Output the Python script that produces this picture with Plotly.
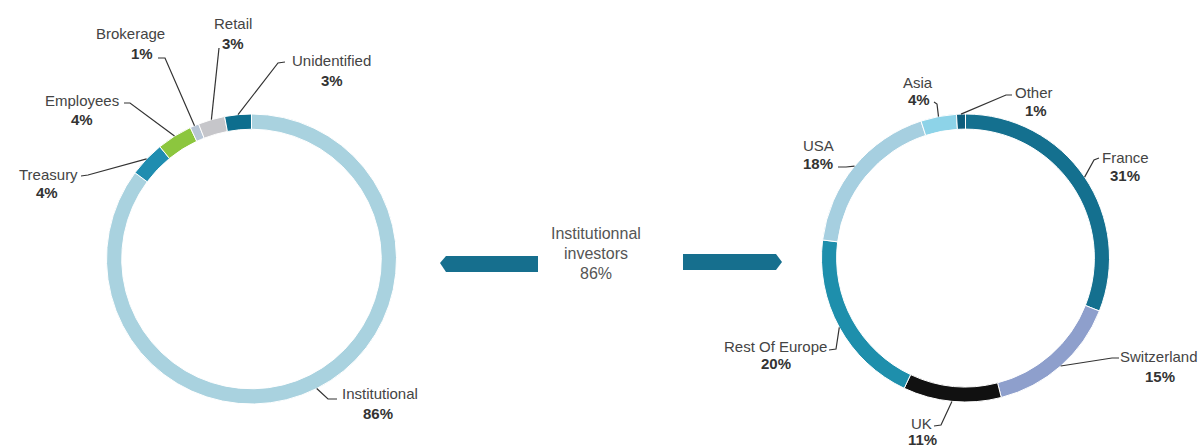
import math
import plotly.graph_objects as go

W, H = 1201, 448

# ---------------- data ----------------
holder_labels = ["Institutional", "Treasury", "Employees", "Brokerage", "Retail", "Unidentified"]
holder_values = [86, 4, 4, 1, 3, 3]
holder_colors = ["#a9d2df", "#1f8db0", "#8cc63e", "#b8c6d6", "#c6c6ca", "#0d6e8e"]

geo_labels = ["France", "Switzerland", "UK", "Rest Of Europe", "USA", "Asia", "Other"]
geo_values = [31, 15, 11, 20, 18, 4, 1]
geo_colors = ["#14708f", "#8e9fcc", "#111111", "#1e8fac", "#a6cfe0", "#8dd3e8", "#0d5d7c"]

center_lines = ["Institutionnal", "investors", "86%"]

# ---------------- layout helpers ----------------
LEFT_C, LEFT_R = (251.5, 259.0), 145.0
RIGHT_C, RIGHT_R = (965.5, 258.0), 144.0
HOLE = 0.895

# label placement: name position, pct position, leader path points (text side)
left_place = {
    "Treasury":      ((48, 174), (47, 192), [(81, 176), (88, 175)]),
    "Employees":     ((82, 100), (82, 119), [(124, 103), (130, 103)]),
    "Brokerage":     ((130, 33), (142, 53), [(158, 58), (165, 58)]),
    "Retail":        ((233, 23), (233, 43), [(219, 48)]),
    "Unidentified":  ((331, 60), (332, 80), [(285, 62), (278, 63)]),
    "Institutional": ((380, 393), (378, 413), [(337, 399), (328, 399)]),
}
right_place = {
    "Asia":           ((918, 82), (919, 99), [(934, 102), (937, 104)]),
    "Other":          ((1034, 92), (1036, 110), [(1012, 95), (1006, 95)]),
    "USA":            ((818, 145), (818, 163), [(838, 167), (846, 167)]),
    "France":         ((1125, 157), (1125, 175), [(1099, 158), (1094, 160)]),
    "Switzerland":    ((1159, 356), (1160, 376), [(1119, 358), (1112, 358)]),
    "UK":             ((921, 423), (922, 439), [(934, 426), (941, 425)]),
    "Rest Of Europe": ((775, 346), (776, 363), [(829, 350), (836, 349)]),
}


def domain(c, r):
    cx, cy = c
    return dict(x=[(cx - r) / W, (cx + r) / W],
                y=[(H - cy - r) / H, (H - cy + r) / H])


def mid_points(values, c, r):
    tot = float(sum(values))
    cum = 0.0
    pts = []
    for v in values:
        ang = (cum + v / 2.0) / tot * 2 * math.pi  # clockwise from 12 o'clock
        pts.append((c[0] + r * math.sin(ang), c[1] - r * math.cos(ang)))
        cum += v
    return pts


fig = go.Figure()

fig.add_trace(go.Pie(
    labels=holder_labels, values=holder_values, sort=False, direction="clockwise",
    rotation=0, hole=HOLE, textinfo="none", hoverinfo="label+percent",
    marker=dict(colors=holder_colors, line=dict(color="white", width=1)),
    domain=domain(LEFT_C, LEFT_R), showlegend=False,
))
fig.add_trace(go.Pie(
    labels=geo_labels, values=geo_values, sort=False, direction="clockwise",
    rotation=0, hole=HOLE, textinfo="none", hoverinfo="label+percent",
    marker=dict(colors=geo_colors, line=dict(color="white", width=1)),
    domain=domain(RIGHT_C, RIGHT_R), showlegend=False,
))

shapes = []
annotations = []
FONT = "Liberation Sans, Arial, sans-serif"
LBL = 15


def add_labels(labels, values, c, r, place):
    pts = mid_points(values, c, r)
    for lab, val, p in zip(labels, values, pts):
        (nx, ny), (px, py), path = place[lab]
        allp = path + [p]
        d = "M " + " L ".join(f"{x:.1f},{y:.1f}" for x, y in allp)
        shapes.append(dict(type="path", path=d, xref="x", yref="y",
                           line=dict(color="#333333", width=1.2)))
        annotations.append(dict(x=nx, y=ny, xref="x", yref="y", text=lab,
                                showarrow=False, font=dict(family=FONT, size=LBL, color="#444444")))
        annotations.append(dict(x=px, y=py, xref="x", yref="y", text=f"<b>{val}%</b>",
                                showarrow=False, font=dict(family=FONT, size=LBL, color="#333333")))


add_labels(holder_labels, holder_values, LEFT_C, LEFT_R, left_place)
add_labels(geo_labels, geo_values, RIGHT_C, RIGHT_R, right_place)

# central text
for i, t in enumerate(center_lines):
    annotations.append(dict(x=596, y=233 + 20 * i, xref="x", yref="y", text=t, showarrow=False,
                            font=dict(family=FONT, size=16, color="#555555")))

# arrows
ARROW = "#166f8e"
shapes.append(dict(type="path", xref="x", yref="y", fillcolor=ARROW, line=dict(width=0),
                   path="M 440,263 L 446,256 L 538,256 L 538,272 L 446,272 Z"))
shapes.append(dict(type="path", xref="x", yref="y", fillcolor=ARROW, line=dict(width=0),
                   path="M 683,254 L 776,254 L 782,262 L 776,270 L 683,270 Z"))

fig.update_layout(
    width=W, height=H, margin=dict(l=0, r=0, t=0, b=0),
    paper_bgcolor="white", plot_bgcolor="rgba(0,0,0,0)",
    xaxis=dict(range=[0, W], visible=False, fixedrange=True, domain=[0, 1]),
    yaxis=dict(range=[H, 0], visible=False, fixedrange=True, domain=[0, 1]),
    shapes=shapes, annotations=annotations, showlegend=False,
)

fig.write_html("out.html", config={"displayModeBar": False},
               post_script="document.body.style.margin='0';")
